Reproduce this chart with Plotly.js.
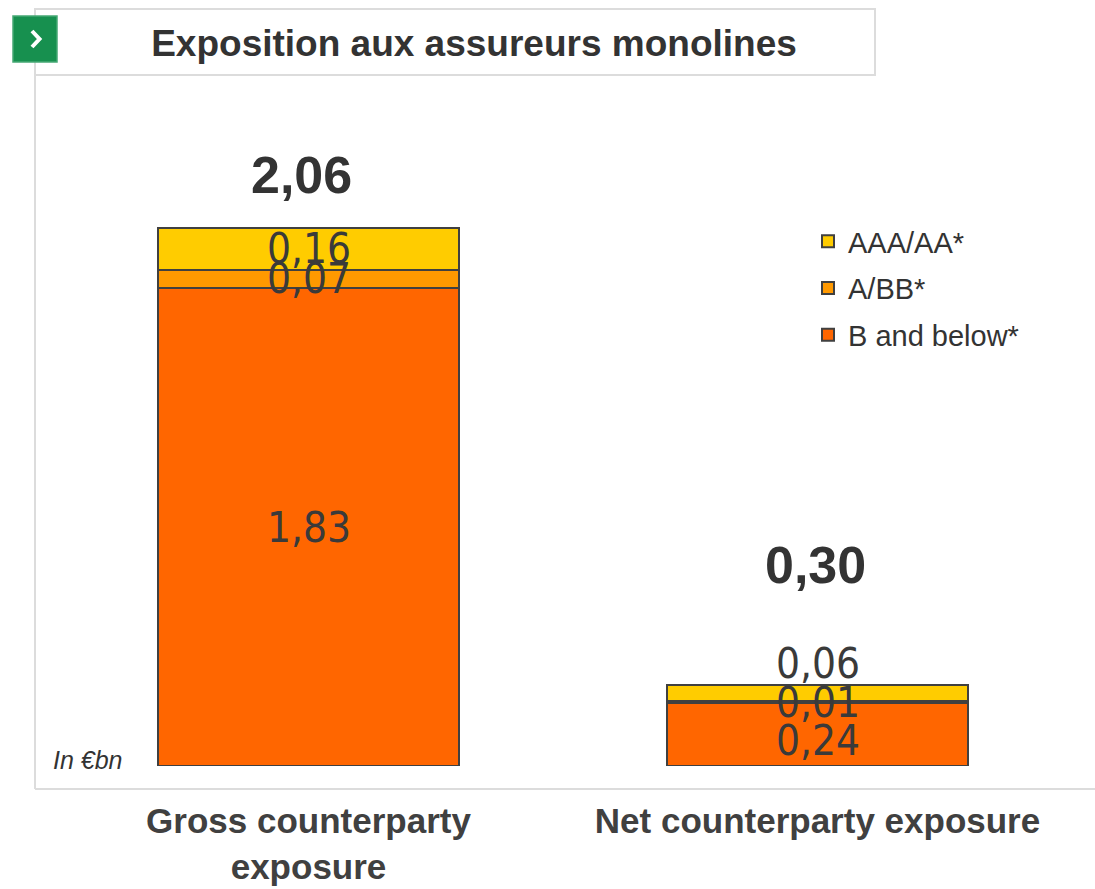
<!DOCTYPE html>
<html>
<head>
<meta charset="utf-8">
<script src="https://cdn.plot.ly/plotly-3.0.1.min.js"></script>
<style>html,body{margin:0;padding:0;background:#fff;}#chart{width:1095px;height:889px;}</style>
</head>
<body>
<div id="chart"></div>
<script>
// ---- data ----
const categories = ["Gross counterparty<br>exposure", "Net counterparty exposure"];
const seriesNames = ["B and below*", "A/BB*", "AAA/AA*"];
const bBelow = [1.83, 0.24];
const aBB = [0.07, 0.01];
const aaaAA = [0.16, 0.06];
const totals = [2.06, 0.30];
const seriesColors = ["#FF6600", "#FF9900", "#FFCC00"];

const fmt = v => v.toFixed(2).replace(".", ",");
const seriesVals = [bBelow, aBB, aaaAA];

const traces = seriesVals.map((vals, i) => ({
  type: "bar",
  name: seriesNames[i],
  x: categories,
  y: vals,
  marker: {color: seriesColors[i], line: {color: "#404040", width: 2}},
  legendgroup: "g" + i,
  legendrank: 1000 - i,
  hoverinfo: "skip"
}));

// segment labels at the middle of each segment (computed from data)
const labelShift = [[0, -6], [0, 0], [0, 29]];
const annotations = [];
for (let c = 0; c < categories.length; c++) {
  let base = 0;
  for (let s = 0; s < seriesVals.length; s++) {
    const v = seriesVals[s][c];
    annotations.push({
      x: categories[c], y: base + v / 2, xref: "x", yref: "y",
      text: fmt(v), showarrow: false, yshift: labelShift[s][c],
      font: {family: "Liberation Sans Narrow, DejaVu Sans Condensed, Arial Narrow, sans-serif", size: 42, color: "#3a3a3a"}
    });
    base += v;
  }
}
const totalShift = [[-7, 53], [-2, 123]];
totals.forEach((t, c) => {
  annotations.push({
    x: categories[c], y: t, xref: "x", yref: "y", text: "<b>" + fmt(t) + "</b>",
    showarrow: false, xshift: totalShift[c][0], yshift: totalShift[c][1], yanchor: "middle",
    font: {family: "Liberation Sans, Arial, sans-serif", size: 52, color: "#333333"}
  });
});

const W = 1018, H = 679, L = 54, T = 87;
const px = x => (x - L) / W;
const py = y => (T + H - y) / H;

annotations.push({
  xref: "paper", yref: "paper", x: px(51), y: py(760), xanchor: "left", yanchor: "middle",
  text: "<i>In €bn</i>", showarrow: false,
  font: {family: "Liberation Sans, Arial, sans-serif", size: 25, color: "#333333"}
});

const shapes = [
  // title box
  {type: "rect", xref: "paper", yref: "paper", x0: px(35), x1: px(875), y0: py(75), y1: py(9),
   line: {color: "#dcdcdc", width: 2}, fillcolor: "rgba(0,0,0,0)", layer: "below"},
  // left frame line
  {type: "line", xref: "paper", yref: "paper", x0: px(35), x1: px(35), y0: py(75), y1: py(789),
   line: {color: "#dcdcdc", width: 2}},
  // bottom frame line
  {type: "line", xref: "paper", yref: "paper", x0: px(35), x1: px(1095), y0: py(789), y1: py(789),
   line: {color: "#dcdcdc", width: 2}},
  // green square
  {type: "rect", xref: "paper", yref: "paper", x0: px(13), x1: px(57), y0: py(62), y1: py(16),
   line: {color: "#45a874", width: 1.5}, fillcolor: "#17904f"},
  // chevron
  {type: "path", xref: "paper", yref: "paper",
   path: `M ${px(32)} ${py(31)} L ${px(39.5)} ${py(39)} L ${px(32)} ${py(47)}`,
   line: {color: "#ffffff", width: 4}}
];

const layout = {
  width: 1095, height: 889,
  margin: {l: L, r: 1095 - L - W, t: T, b: 889 - T - H, pad: 0},
  paper_bgcolor: "#ffffff", plot_bgcolor: "#ffffff",
  barmode: "stack", bargap: 0.409,
  showlegend: true,
  title: {text: "<b>Exposition aux assureurs monolines</b>", x: 474 / 1095, xanchor: "center",
          y: 1 - 43 / 889, yanchor: "middle",
          font: {family: "Liberation Sans, Arial, sans-serif", size: 37, color: "#333333"}},
  legend: {x: px(808), y: py(216), xanchor: "left", yanchor: "top", traceorder: "grouped",
           tracegroupgap: 6, bgcolor: "rgba(0,0,0,0)",
           font: {family: "Liberation Sans, Arial, sans-serif", size: 29, color: "#333333"}},
  xaxis: {range: [-0.5, 1.5], showgrid: false, zeroline: false, showline: false, ticks: "",
          ticklabelstandoff: 31,
          tickfont: {family: "Liberation Sans, Arial, sans-serif", size: 35, color: "#404040", weight: "bold"},
          fixedrange: true},
  yaxis: {range: [0, 2.6], visible: false, fixedrange: true},
  annotations: annotations,
  shapes: shapes
};

Plotly.newPlot("chart", traces, layout, {displayModeBar: false, staticPlot: true});
</script>
</body>
</html>
